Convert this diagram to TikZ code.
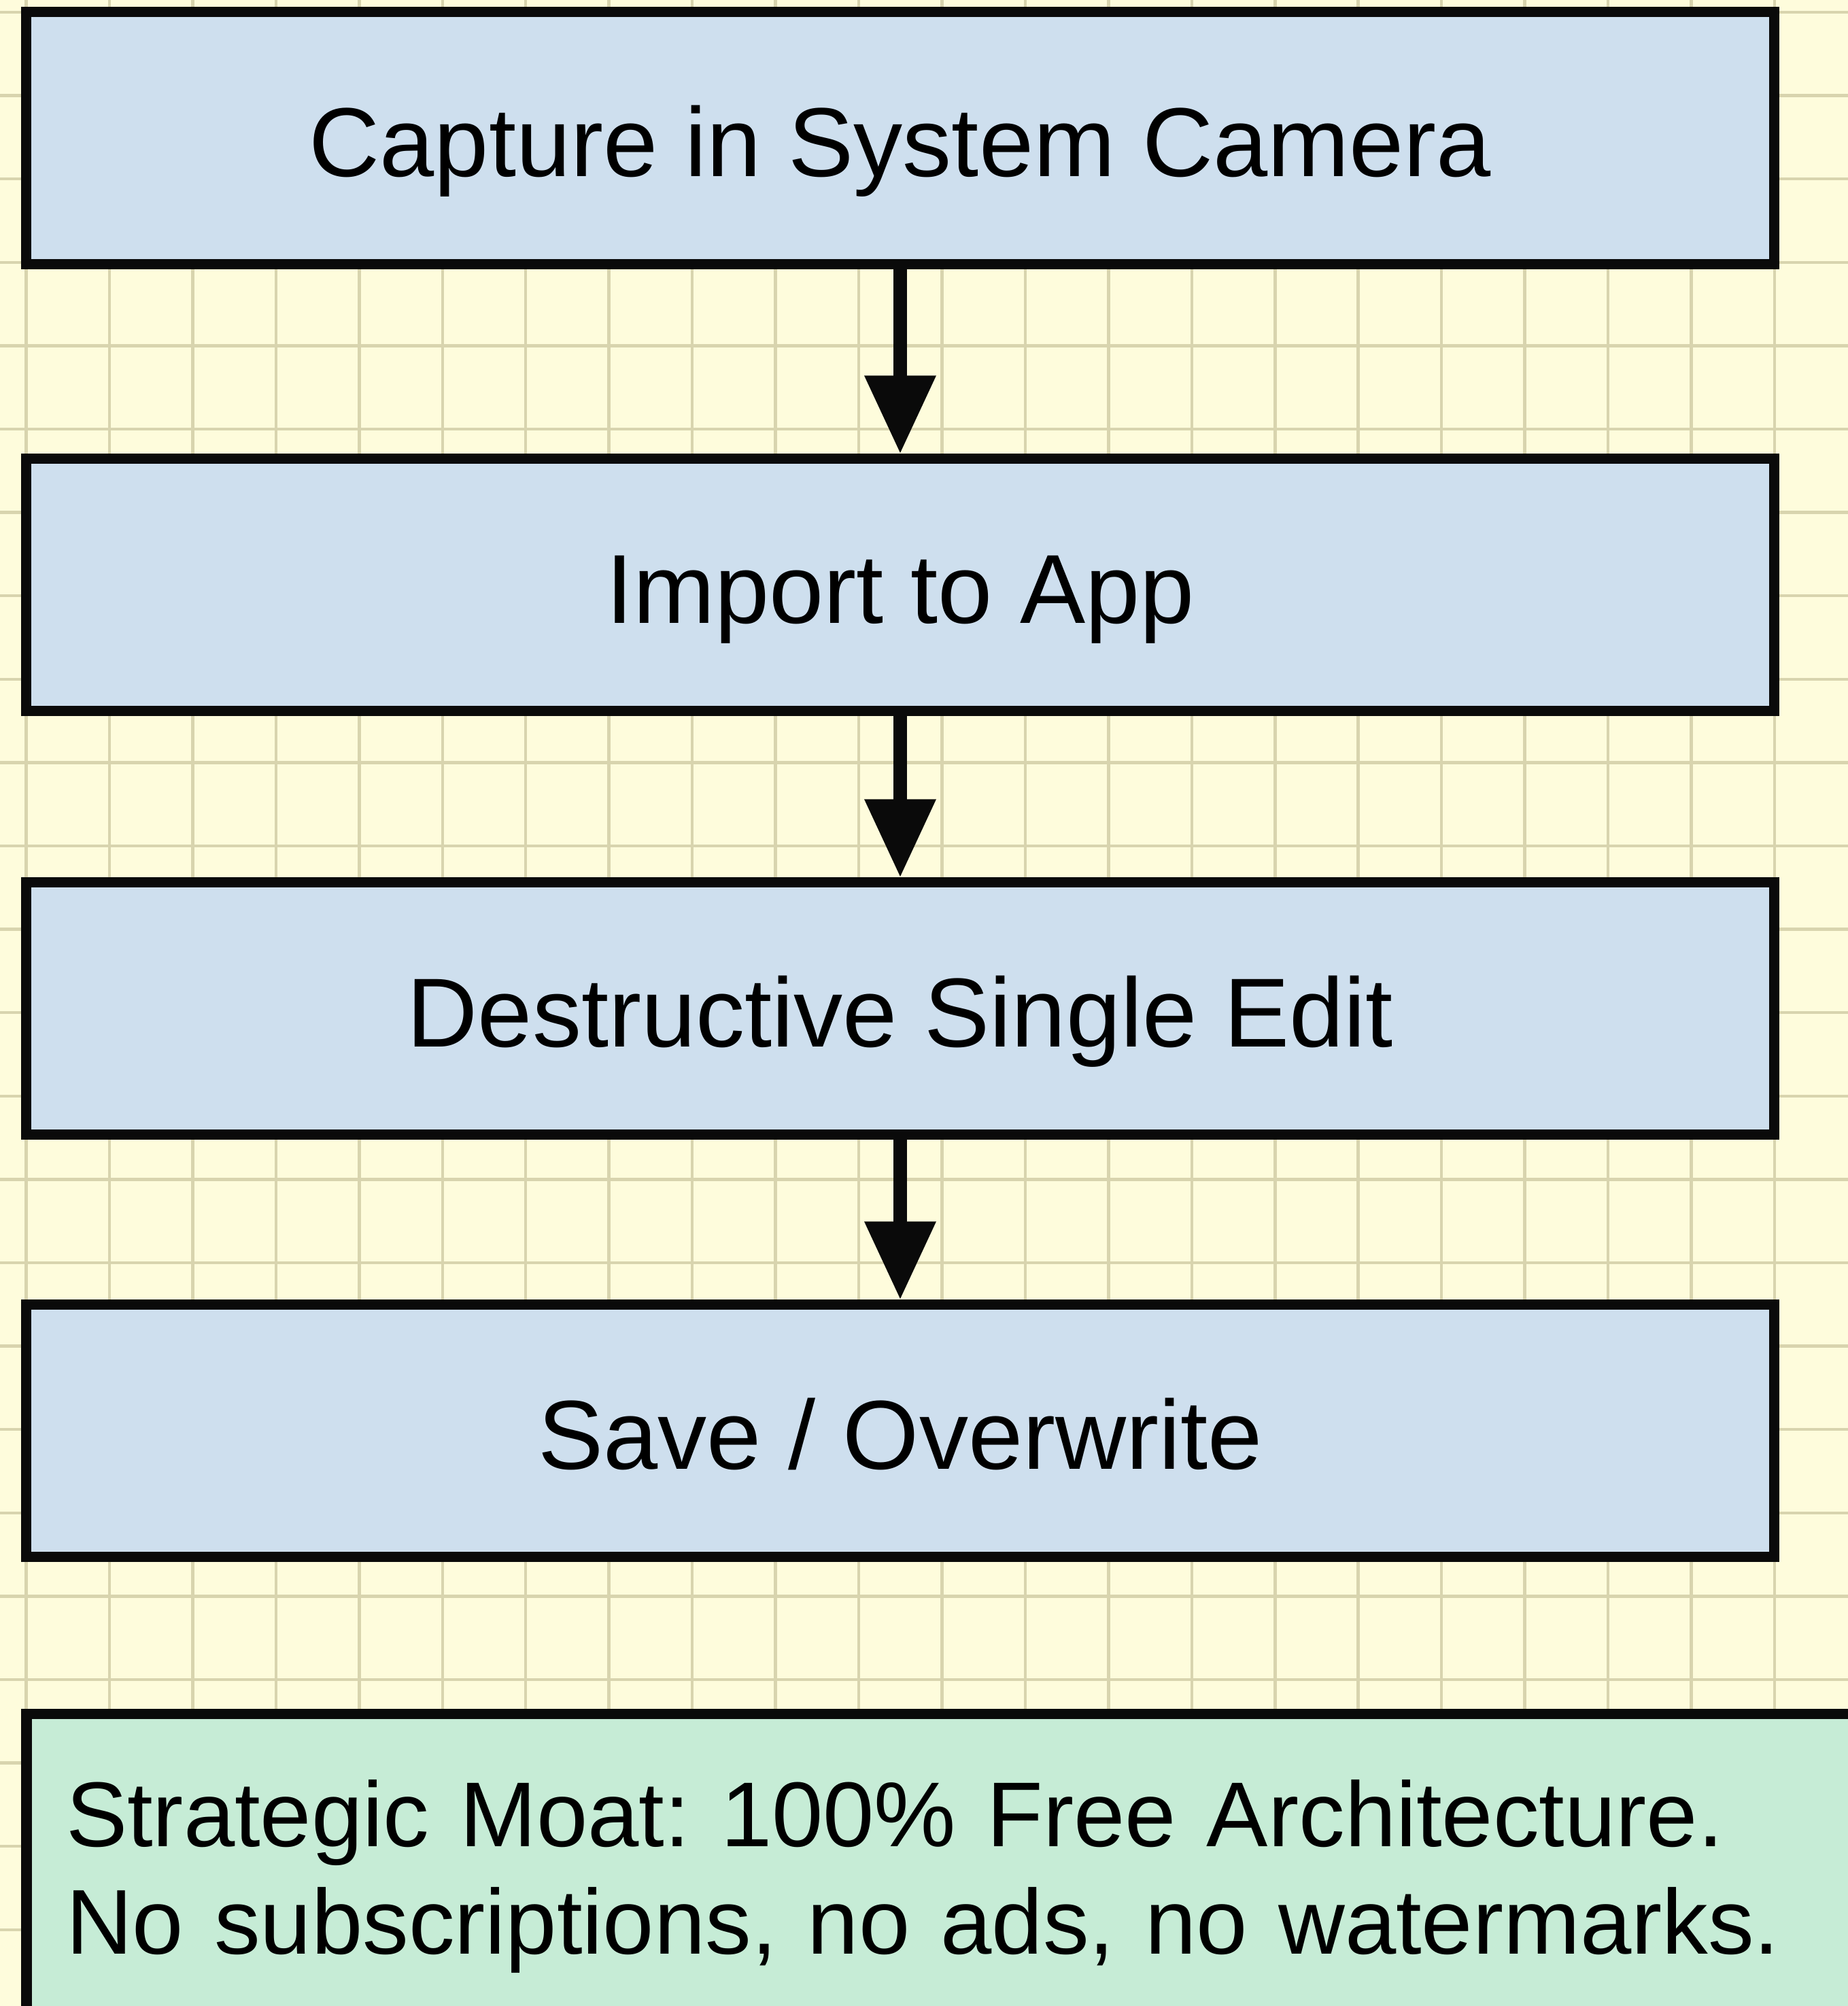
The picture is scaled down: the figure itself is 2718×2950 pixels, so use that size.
\documentclass[tikz,border=0pt]{standalone}
\usepackage{fontspec}
\setmainfont{Liberation Sans}
\usepackage{tikz}
\usetikzlibrary{arrows.meta}

\definecolor{paper}{RGB}{254,252,220}
\definecolor{gridtan}{RGB}{216,212,174}
\definecolor{ink}{RGB}{10,10,10}
\definecolor{boxblue}{RGB}{206,223,238}
\definecolor{moatgreen}{RGB}{198,236,214}

\begin{document}
\begin{tikzpicture}[x=0.01cm, y=-0.01cm,
    stepbox/.style={rectangle, draw=ink, fill=boxblue, line width=0.15cm,
        minimum width=25.7cm, minimum height=3.7cm,
        font=\fontsize{41pt}{46pt}\selectfont, text height=32pt, text depth=0pt},
    moatbox/.style={rectangle, draw=ink, fill=moatgreen, line width=0.15cm,
        outer sep=0pt, inner xsep=0.58cm, inner ysep=0.95cm,
        text width=27cm, align=left, text height=1cm, text depth=4cm,
        font=\fontsize{38.5pt}{45pt}\selectfont\frenchspacing},
    flow/.style={draw=ink, line width=0.2cm, -{Triangle[length=1.15cm, width=1cm]}},
    gridline/.style={draw=gridtan, line width=0.045cm}]

            \useasboundingbox (0,0) rectangle (2718,2950);
            \clip (0,0) rectangle (2718,2950);

            % Paper
            \fill[paper] (0,0) rectangle (2718,2950);
            \foreach \gx in {0,...,22} \draw[gridline] ({38.5+122.45*\gx},0) -- ++(0,2950);
            \foreach \gy in {0,...,24} \draw[gridline] (0,{18+122.6*\gy}) -- ++(2718,0);

            % Nodes
            \node[stepbox] (capture) at (1324, 203) {Capture in System Camera};
            \node[stepbox] (import) at (1324, 860) {Import to App};
            \node[stepbox] (edit) at (1324, 1483) {Destructive Single Edit};
            \node[stepbox] (save) at (1324, 2104) {Save / Overwrite};
            \node[moatbox, anchor=north west] (moat) at (39, 2520)
                {Strategic Moat: 100\% Free Architecture.\\No subscriptions, no ads, no watermarks.};

            % Lines
            \draw[flow] (capture) -- (import);
            \draw[flow] (import) -- (edit);
            \draw[flow] (edit) -- (save);
        \end{tikzpicture}
\end{document}
